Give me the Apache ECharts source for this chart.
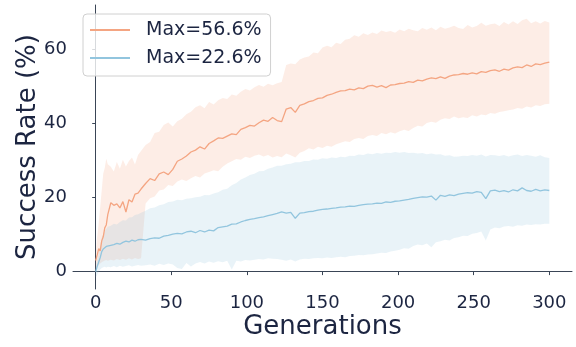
<!DOCTYPE html>
<html>
<head>
<meta charset="utf-8">
<script src="https://cdn.jsdelivr.net/npm/echarts@6/dist/echarts.min.js"></script>
<style>html,body{margin:0;padding:0;background:#fff;}#chart{width:576px;height:347px;}</style>
</head>
<body>
<div id="chart"></div>
<script>
// Generations sampled
const gens = [0,1,2,3,4,5,6,7,8,10,12,14,16,18,20,22,24,26,28,30,
  33,36,39,42,45,48,51,54,57,60,
  63,66,69,72,75,78,81,84,87,90,
  93,96,99,102,105,108,111,114,117,120,
  123,126,129,132,135,138,141,144,147,150,
  153,156,159,162,165,168,171,174,177,180,
  183,186,189,192,195,198,201,204,207,210,
  213,216,219,222,225,228,231,234,237,240,
  243,246,249,252,255,258,261,264,267,270,
  273,276,279,282,285,288,291,294,297,300];

const orangeMean = [3.0,4.5,6.2,5.6,8.3,9.4,11.8,12.6,15.4,18.6,17.9,18.3,17.2,18.9,16.1,19.4,18.8,20.9,21.2,22.3,
  23.8,25.1,24.6,26.4,26.9,26.2,27.6,29.8,30.4,31.2,
  32.3,32.8,33.7,33.1,34.6,35.3,36.1,36.0,36.6,37.2,
  37.0,38.4,38.9,39.5,39.3,40.2,40.9,40.6,41.6,40.8,
  40.5,43.9,44.3,43.0,44.9,45.3,45.9,46.2,46.8,46.9,
  47.6,47.9,48.4,48.8,48.9,49.3,49.1,49.6,49.4,50.1,
  50.3,49.8,50.2,49.7,50.4,50.5,50.8,50.9,51.3,51.1,
  51.7,51.5,52.0,52.3,52.1,52.6,52.2,52.8,53.1,53.2,
  53.5,53.3,53.7,53.4,54.0,53.8,54.3,54.5,54.1,54.7,
  54.4,55.0,55.3,55.1,55.8,55.4,56.1,55.9,56.3,56.6];

const orangeUpper = [5.0,9.5,13.0,17.5,22.0,26.5,28.0,30.5,29.0,28.3,27.0,29.6,27.8,30.2,28.4,29.9,30.8,28.9,31.5,32.6,
  34.2,35.0,37.4,37.8,39.6,40.3,39.2,40.6,41.3,42.5,
  43.2,44.4,44.9,44.1,45.8,45.1,46.3,46.9,46.6,47.8,
  47.5,48.6,49.3,48.9,49.8,50.4,49.9,50.7,50.3,50.9,
  51.2,55.8,56.2,56.0,57.3,57.8,58.1,59.2,59.0,60.5,
  61.0,60.6,61.8,61.5,62.6,62.9,63.8,63.4,64.4,63.9,
  64.6,64.2,65.1,64.7,65.0,64.5,65.4,64.9,65.6,65.2,
  64.9,65.8,65.3,65.9,65.2,66.1,65.6,65.9,66.4,65.8,
  65.5,66.6,65.9,66.3,67.2,66.4,66.8,67.0,66.3,67.4,
  66.7,67.6,66.9,67.9,68.3,67.1,67.6,67.0,67.7,67.3];

const orangeLower = [0.5,1.2,1.8,2.2,2.5,2.8,3.0,3.1,2.9,3.2,3.0,3.4,3.1,3.5,3.2,3.6,3.3,3.7,3.4,3.6,
  18.4,19.8,20.3,21.9,22.2,23.4,23.1,24.3,24.9,24.5,
  25.2,25.8,25.4,26.5,26.9,27.4,27.1,28.3,29.2,29.8,
  30.4,30.2,31.0,30.7,31.3,31.6,31.1,31.5,30.8,31.2,
  30.9,31.9,31.4,30.8,32.1,32.6,33.3,33.0,33.7,33.4,
  34.0,33.7,34.4,34.8,35.2,35.0,35.8,36.1,35.8,36.6,
  36.9,36.6,37.4,37.1,37.6,37.3,37.9,38.3,38.0,38.8,
  39.4,39.2,40.1,40.5,40.2,41.0,41.4,41.2,41.9,41.4,
  41.7,41.5,42.2,41.9,42.4,42.2,42.8,42.6,43.1,43.3,
  43.6,43.8,44.2,44.0,44.6,44.3,44.9,44.7,45.2,45.3];

const blueMean = [0.0,1.4,2.6,3.8,5.4,6.1,6.4,6.8,6.6,7.1,7.3,7.6,7.4,7.9,8.2,8.0,8.5,8.2,8.6,8.7,
  8.5,8.9,9.1,9.0,9.6,9.8,10.1,10.3,10.2,10.7,
  10.9,10.5,11.1,10.7,11.2,11.0,11.9,12.1,12.3,12.8,
  12.9,13.4,13.8,14.1,14.3,14.6,14.8,15.1,15.4,15.7,
  16.1,15.8,16.0,14.4,15.8,15.9,16.2,16.3,16.6,16.8,
  16.9,17.1,17.2,17.4,17.5,17.7,17.6,17.9,18.1,18.2,
  18.3,18.5,18.4,18.8,18.7,19.0,19.1,19.3,19.5,19.8,
  20.0,20.2,20.1,20.4,19.3,20.6,20.3,20.7,20.5,20.9,
  21.1,21.3,21.2,21.6,21.4,19.7,21.8,22.0,21.6,21.9,
  21.5,22.1,21.8,22.6,21.9,21.7,22.2,21.8,22.1,21.9];

const blueUpper = [1.0,3.2,5.1,7.0,9.2,10.1,11.0,11.6,12.1,12.4,12.9,12.7,13.4,13.9,13.8,14.6,14.7,15.3,15.5,15.9,
  16.4,17.1,17.3,17.9,18.2,18.8,18.9,19.4,19.3,19.7,
  19.8,20.1,20.2,20.7,20.6,21.1,21.4,22.1,22.4,23.3,
  23.9,24.9,25.4,26.1,26.4,27.1,27.2,27.8,28.1,28.6,
  28.6,29.0,29.1,29.5,29.5,29.9,29.9,30.3,30.2,30.6,
  30.5,30.8,30.7,31.0,30.9,31.3,31.2,31.6,31.5,31.9,
  31.7,32.0,31.8,32.1,32.0,32.3,32.1,32.3,32.0,32.1,
  31.9,32.0,31.7,31.9,31.6,31.7,31.3,31.4,31.0,31.1,
  31.3,31.2,31.5,31.3,31.6,31.1,31.5,31.4,31.2,31.5,
  31.1,31.4,31.6,31.2,31.5,31.3,31.0,31.4,30.9,30.7];

const blueLower = [-1.5,-0.9,0.1,0.6,1.0,1.2,1.3,1.1,1.3,1.2,1.5,1.2,1.6,1.3,1.5,1.7,1.4,1.6,1.8,1.6,
  1.7,1.9,1.6,2.1,1.8,2.2,1.9,1.0,0.7,2.3,
  1.4,2.2,2.6,2.2,2.7,2.4,2.8,2.5,2.9,0.6,
  2.9,2.7,3.1,3.0,3.2,3.4,3.3,3.6,3.5,3.4,
  3.2,2.9,3.3,2.7,3.3,3.5,3.4,3.6,3.7,3.6,
  3.8,3.7,3.9,4.0,3.9,4.2,4.3,4.5,4.4,4.6,
  4.7,4.9,5.1,5.0,5.4,5.6,5.9,6.3,6.2,6.9,
  7.3,7.1,7.6,6.6,7.9,8.2,8.6,8.4,9.1,9.3,
  9.7,9.6,10.2,10.4,10.8,8.4,11.4,11.9,11.7,12.2,
  12.3,12.1,12.5,12.4,12.7,12.6,12.8,12.7,12.9,12.9];

const xTicks = [0, 50, 100, 150, 200, 250, 300];
const yTicks = [0, 20, 40, 60];
const legendNames = ['Max=56.6%', 'Max=22.6%'];

const ORANGE = '#f4a582';
const BLUE = '#92c5de';
const INK = '#1c2541';
const AXIS = '#3a4556';
const FONT = 'DejaVu Sans';

function pairs(ys) { return gens.map((g, i) => [g, ys[i]]); }

// Shaded band between lower and upper, drawn as one polygon through the axis scales
function band(lo, up, color) {
  return {
    type: 'custom', coordinateSystem: 'cartesian2d', silent: true, z: 1,
    data: [[gens[0], lo[0]]],
    renderItem: function (params, api) {
      const pts = [];
      for (let i = 0; i < gens.length; i++) pts.push(api.coord([gens[i], up[i]]));
      for (let i = gens.length - 1; i >= 0; i--) pts.push(api.coord([gens[i], lo[i]]));
      return { type: 'polygon', shape: { points: pts }, style: { fill: color, opacity: 0.2 } };
    }
  };
}

const chart = echarts.init(document.getElementById('chart'), null, { renderer: 'canvas' });
chart.setOption({
  animation: false,
  backgroundColor: '#ffffff',
  textStyle: { fontFamily: FONT },
  grid: { left: 73, right: 4, top: 5, bottom: 58 },
  legend: {
    data: legendNames.map(n => ({ name: n, icon: 'rect' })),
    orient: 'vertical',
    left: 83, top: 14,
    padding: [6, 9, 8, 7],
    itemWidth: 40, itemHeight: 2, itemGap: 8,
    borderColor: '#d0d0d0', borderWidth: 1, borderRadius: 4,
    backgroundColor: 'rgba(255,255,255,0.8)',
    textStyle: { fontSize: 19, lineHeight: 20, color: INK, fontFamily: FONT, padding: [0, 0, 0, 11] }
  },
  xAxis: {
    type: 'value', min: -15, max: 315,
    name: 'Generations', nameLocation: 'middle', nameGap: 25, nameMoveOverlap: false,
    nameTextStyle: { fontSize: 26, color: INK, fontFamily: FONT, verticalAlign: 'top' },
    axisLine: { show: true, lineStyle: { color: AXIS, width: 1 } },
    axisTick: { show: true, customValues: xTicks, length: 3.5, lineStyle: { color: AXIS } },
    axisLabel: { customValues: xTicks, fontSize: 18, color: INK, margin: 5, fontFamily: FONT },
    splitLine: { show: false }
  },
  yAxis: {
    type: 'value', min: -4.7, max: 72,
    name: 'Success Rate (%)', nameLocation: 'middle', nameGap: 32, nameMoveOverlap: false,
    nameTextStyle: { fontSize: 26, color: INK, fontFamily: FONT },
    axisLine: { show: true, lineStyle: { color: AXIS, width: 1 } },
    axisTick: { show: true, customValues: yTicks, length: 3.5, lineStyle: { color: AXIS } },
    axisLabel: { customValues: yTicks, fontSize: 18, color: INK, margin: 6, fontFamily: FONT },
    splitLine: { show: false }
  },
  series: [
    band(orangeLower, orangeUpper, ORANGE),
    { name: legendNames[0], type: 'line', data: pairs(orangeMean), symbol: 'none',
      lineStyle: { color: ORANGE, width: 1.3 }, itemStyle: { color: ORANGE }, z: 2 },
    band(blueLower, blueUpper, BLUE),
    { name: legendNames[1], type: 'line', data: pairs(blueMean), symbol: 'none',
      lineStyle: { color: BLUE, width: 1.3 }, itemStyle: { color: BLUE }, z: 3 }
  ]
});
</script>
</body>
</html>
